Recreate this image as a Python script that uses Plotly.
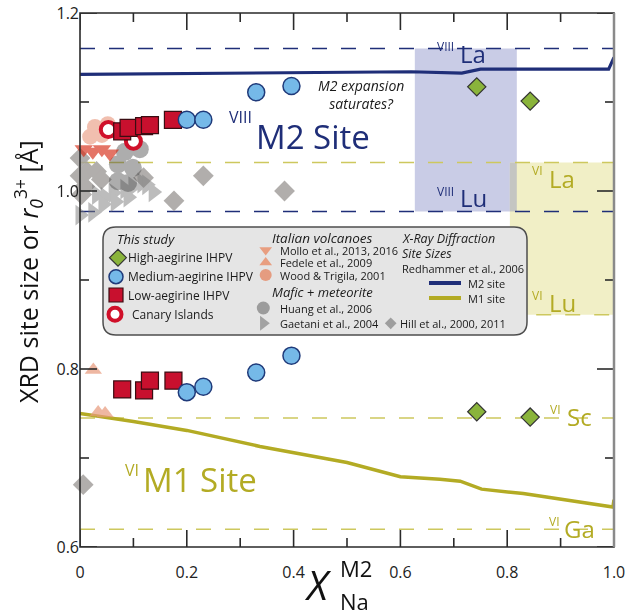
import plotly.graph_objects as go

# ---------------- data ----------------
# This study (IHPV experiments): X_Na(M2) and fitted r0(3+) for the M2 and M1 sites
high_aeg_x = [0.743, 0.843]
high_aeg_m2 = [1.117, 1.101]
high_aeg_m1 = [0.752, 0.746]

med_aeg_x = [0.200, 0.231, 0.330, 0.396]
med_aeg_m2 = [1.080, 1.080, 1.111, 1.118]
med_aeg_m1 = [0.774, 0.780, 0.796, 0.815]

low_aeg_m2_x = [0.079, 0.091, 0.120, 0.131, 0.174]
low_aeg_m2 = [1.067, 1.071, 1.073, 1.074, 1.080]
low_aeg_m1_x = [0.079, 0.120, 0.131, 0.175]
low_aeg_m1 = [0.777, 0.776, 0.787, 0.787]

canary_x = [0.053, 0.100]
canary_m2 = [1.069, 1.056]

# Italian volcanoes
mollo_x = [0.007, 0.024, 0.041, 0.056]
mollo_r = [1.047, 1.044, 1.047, 1.042]
fedele_x = [0.025, 0.034, 0.047]
fedele_r = [0.799, 0.751, 0.750]
wood_x = [0.028, 0.019, 0.041, 0.052]
wood_r = [1.072, 1.061, 1.063, 1.075]

# Mafic + meteorite
huang_x = [0.084, 0.112, 0.071, 0.099, 0.090, 0.071]
huang_r = [1.044, 1.047, 1.030, 1.026, 1.009, 1.011]
gaetani_x = [0.000, 0.024, 0.031, 0.047, 0.062, 0.084, 0.099, 0.116, 0.125, 0.137, 0.043, 0.066, 0.090]
gaetani_r = [0.973, 0.976, 0.996, 0.993, 0.998, 1.002, 1.005, 1.009, 1.007, 0.999, 0.985, 0.988, 0.993]
hill_x = [0.000, 0.000, 0.013, 0.031, 0.040, 0.009, 0.003, 0.119, 0.231, 0.176, 0.383, 0.006]
hill_r = [1.037, 1.017, 1.022, 1.022, 1.013, 1.005, 0.996, 1.015, 1.017, 0.989, 1.000, 0.670]

# XRD site sizes (Redhammer et al., 2006)
m2_site_x = [0.0, 0.2, 0.4, 0.6, 0.62, 0.715, 0.75, 0.99, 1.0]
m2_site_r = [1.131, 1.132, 1.133, 1.134, 1.134, 1.1325, 1.137, 1.137, 1.150]
m1_site_x = [0.0, 0.1, 0.2, 0.337, 0.5, 0.6, 0.674, 0.712, 0.752, 0.83, 0.998, 1.0]
m1_site_r = [0.750, 0.741, 0.731, 0.713, 0.695, 0.679, 0.676, 0.674, 0.665, 0.660, 0.645, 0.653]

# Shannon ionic radii (Å)
r_La_VIII, r_Lu_VIII = 1.160, 0.977
r_La_VI, r_Lu_VI, r_Sc_VI, r_Ga_VI = 1.032, 0.861, 0.745, 0.620
# X_Na ranges over which the REE radii bands are shaded
band_viii_x = [0.627, 0.818]
band_vi_x = [0.805, 1.0]

x_tickvals = [0, 0.2, 0.4, 0.6, 0.8, 1.0]
x_ticktext = ["0", "0.2", "0.4", "0.6", "0.8", "1.0"]
x_minorvals = [0.1, 0.3, 0.5, 0.7, 0.9]
y_tickvals = [0.6, 0.8, 1.0, 1.2]
y_ticktext = ["0.6", "0.8", "1.0", "1.2"]
y_minorvals = [0.7, 0.9, 1.1]

# ---------------- styling ----------------
W, H = 626, 616
ML, MR, MT, MB = 80, 12, 13, 69
PW, PH = W - ML - MR, H - MT - MB
X0, X1, Y0, Y1 = 0.0, 1.0, 0.6, 1.2
DX = (X1 - X0) / PW   # data units per pixel
DY = (Y1 - Y0) / PH

NAVY = "#1f2e78"
OLIVE = "#b3ab24"
OLIVE_DASH = "#cdc85e"
INK = "#2a2a2a"
FONT = "Open Sans"


def px_x(px):
    return X0 + (px - ML) * DX


def px_y(py):
    return Y1 - (py - MT) * DY


def pp_x(px):
    return (px - ML) / PW


def pp_y(py):
    return (H - MB - py) / PH


fig = go.Figure()

# site-size curves
fig.add_trace(go.Scatter(x=m2_site_x, y=m2_site_r, mode="lines",
                         line=dict(color=NAVY, width=3.2), cliponaxis=False))
fig.add_trace(go.Scatter(x=m1_site_x, y=m1_site_r, mode="lines",
                         line=dict(color=OLIVE, width=3.5), cliponaxis=False))


def pts(x, y, symbol, size, color, line_color=None, line_width=0, opacity=1.0):
    fig.add_trace(go.Scatter(
        x=x, y=y, mode="markers", cliponaxis=False, opacity=opacity,
        marker=dict(symbol=symbol, size=size, color=color,
                    line=dict(color=line_color or color, width=line_width))))


# literature data
pts(hill_x, hill_r, "diamond", 16, "#a3a09d", opacity=0.85)
pts(gaetani_x, gaetani_r, "triangle-right", 18, "#7a7a7a", opacity=0.5)
pts(huang_x, huang_r, "circle", 18, "#4a4a4a", opacity=0.45)
pts(wood_x, wood_r, "circle", 16, "#e8957a", opacity=0.6)
pts(fedele_x, fedele_r, "triangle-up", 15, "#e89a7c", opacity=0.7)
pts(mollo_x, mollo_r, "triangle-down", 16, "#d62a14", opacity=0.65)

# this study
pts(canary_x, canary_m2, "circle", 15, "white", "#d0102a", 4)
pts(low_aeg_m2_x, low_aeg_m2, "square", 17, "#c8102e", "#3a0d12", 1.2)
pts(low_aeg_m1_x, low_aeg_m1, "square", 17, "#c8102e", "#3a0d12", 1.2)
pts(med_aeg_x, med_aeg_m2, "circle", 17, "#75b9e8", "#1f3a7a", 1.5)
pts(med_aeg_x, med_aeg_m1, "circle", 17, "#75b9e8", "#1f3a7a", 1.5)
pts(high_aeg_x, high_aeg_m2, "diamond", 14, "#8ab43b", "#333333", 1.2)
pts(high_aeg_x, high_aeg_m1, "diamond", 14, "#8ab43b", "#333333", 1.2)

# ---------------- shapes ----------------
shapes = []
shapes.append(dict(type="rect", xref="x", yref="y", x0=band_viii_x[0], x1=band_viii_x[1],
                   y0=r_Lu_VIII, y1=r_La_VIII, fillcolor="#c9cce6", line=dict(width=0), layer="below"))
shapes.append(dict(type="rect", xref="x", yref="y", x0=band_vi_x[0], x1=band_vi_x[1],
                   y0=r_Lu_VI, y1=r_La_VI, fillcolor="#f1efc6", line=dict(width=0), layer="below"))
shapes.append(dict(type="rect", xref="x", yref="y", x0=band_vi_x[0], x1=band_viii_x[1],
                   y0=r_Lu_VIII, y1=r_La_VI, fillcolor="#c4c5c2", line=dict(width=0), layer="below"))

DASH = "15px,14px"
for r, c, xa in [(r_La_VIII, NAVY, 0.0), (r_Lu_VIII, NAVY, 0.0), (r_La_VI, OLIVE_DASH, 0.0),
                 (r_Lu_VI, OLIVE_DASH, 0.8), (r_Sc_VI, OLIVE_DASH, 0.0), (r_Ga_VI, OLIVE_DASH, 0.0)]:
    shapes.append(dict(type="line", xref="x", yref="y", x0=xa, x1=1.0, y0=r, y1=r,
                       line=dict(color=c, width=1.5, dash=DASH), layer="below"))

# legend panel (rounded box)
bx0, bx1 = px_x(103), px_x(527)
by0, by1 = px_y(335), px_y(227)
rx, ry = 13 * DX, 13 * DY
path = (f"M{bx0+rx},{by1} L{bx1-rx},{by1} Q{bx1},{by1} {bx1},{by1-ry} "
        f"L{bx1},{by0+ry} Q{bx1},{by0} {bx1-rx},{by0} L{bx0+rx},{by0} "
        f"Q{bx0},{by0} {bx0},{by0+ry} L{bx0},{by1-ry} Q{bx0},{by1} {bx0+rx},{by1} Z")
shapes.append(dict(type="path", xref="x", yref="y", path=path, fillcolor="#e5e5e5",
                   line=dict(color="#4d4d4d", width=1.5), layer="below"))
# legend line keys
shapes.append(dict(type="line", xref="x", yref="y", x0=px_x(429), x1=px_x(461),
                   y0=px_y(283), y1=px_y(283), line=dict(color=NAVY, width=4), layer="below"))
shapes.append(dict(type="line", xref="x", yref="y", x0=px_x(429), x1=px_x(461),
                   y0=px_y(298), y1=px_y(298), line=dict(color=OLIVE, width=4), layer="below"))

# plot frame with inward ticks on all four sides
shapes.append(dict(type="rect", xref="paper", yref="paper", x0=0, x1=1, y0=0, y1=1,
                   line=dict(color=INK, width=1.6), fillcolor="rgba(0,0,0,0)", layer="above"))
for vals, ln in [(x_tickvals, 17), (x_minorvals, 9)]:
    for v in vals:
        shapes.append(dict(type="line", xref="x", yref="paper", x0=v, x1=v, y0=0, y1=ln / PH,
                           line=dict(color=INK, width=1.6), layer="above"))
        shapes.append(dict(type="line", xref="x", yref="paper", x0=v, x1=v, y0=1, y1=1 - ln / PH,
                           line=dict(color=INK, width=1.6), layer="above"))
for vals, ln in [(y_tickvals, 17), (y_minorvals, 9)]:
    for v in vals:
        shapes.append(dict(type="line", xref="paper", yref="y", x0=0, x1=ln / PW, y0=v, y1=v,
                           line=dict(color=INK, width=1.6), layer="above"))
        shapes.append(dict(type="line", xref="paper", yref="y", x0=1, x1=1 - ln / PW, y0=v, y1=v,
                           line=dict(color=INK, width=1.6), layer="above"))
# right frame edge (grey)
shapes.append(dict(type="line", xref="paper", yref="paper", x0=1, x1=1, y0=0, y1=1,
                   line=dict(color="#8a8a8a", width=2.5), layer="above"))


# legend marker keys
def key(px, py, symbol, size, color, line_color=None, line_width=0):
    fig.add_trace(go.Scatter(
        x=[px_x(px)], y=[px_y(py)], mode="markers", cliponaxis=False,
        marker=dict(symbol=symbol, size=size, color=color,
                    line=dict(color=line_color or color, width=line_width))))


key(118, 257.7, "diamond", 13, "#8ab43b", "#333333", 1.2)
key(116, 276.7, "circle", 14, "#75b9e8", "#1f3a7a", 1.5)
key(116, 295, "square", 14, "#c8102e", "#3a0d12", 1.2)
key(115, 314.3, "circle", 13, "white", "#d0102a", 4)
key(265.7, 250, "triangle-down", 11, "#e89e80")
key(265.7, 262.5, "triangle-up", 11, "#e89e80")
key(265.7, 275, "circle", 12, "#e59c80")
key(263.3, 308, "circle", 13, "#9c9c9c")
key(263.3, 323.3, "triangle-right", 13, "#a2a2a2")
key(390.7, 323.3, "diamond", 9, "#9e9e9e")

# ---------------- annotations ----------------
ann = []


def label(px, py, text, size, color="#1a1a1a", xanchor="left", italic=False, angle=0, pad=1):
    ann.append(dict(x=pp_x(px), y=pp_y(py), xref="paper", yref="paper", text=text,
                    showarrow=False, xanchor=xanchor, yanchor="middle", textangle=angle,
                    borderpad=pad,
                    font=dict(family=FONT, size=size, color=color,
                              style="italic" if italic else "normal")))


# radius labels
label(456, 46, "VIII", 12, NAVY, "right")
label(458, 54, "La", 24, NAVY)
label(456, 191, "VIII", 12, NAVY, "right")
label(458, 198, "Lu", 24, NAVY)
label(545, 171, "VI", 12, OLIVE, "right")
label(547, 178, "La", 24, OLIVE)
label(545, 295, "VI", 12, OLIVE, "right")
label(547, 302, "Lu", 24, OLIVE)
label(563, 409, "VI", 12, OLIVE, "right")
label(565, 416, "Sc", 24, OLIVE)
label(562, 521, "VI", 12, OLIVE, "right")
label(562, 528, "Ga", 24, OLIVE)

# site labels
label(254, 117, "VIII", 16, NAVY, "right")
label(254, 136, "M2 Site", 33, NAVY)
label(141, 470, "VI", 16, OLIVE, "right")
label(141, 479, "M1 Site", 33, OLIVE)

ann.append(dict(x=pp_x(361), y=pp_y(94), xref="paper", yref="paper", showarrow=False,
                xanchor="center", yanchor="middle", align="center",
                text="M2 expansion<br>saturates?",
                font=dict(family=FONT, size=14, color="#1a1a1a", style="italic")))

# legend text
LC = "#1a1a1a"
for px, py, t, sz, it in [
    (116, 238.5, "This study", 13, True),
    (127, 257.7, "High-aegirine IHPV", 12, False),
    (127, 276.7, "Medium-aegirine IHPV", 12, False),
    (127, 295, "Low-aegirine IHPV", 12, False),
    (131, 314.3, "Canary Islands", 12, False),
    (271, 238, "Italian volcanoes", 13.5, True),
    (279, 250, "Mollo et al., 2013, 2016", 11, False),
    (279, 262.5, "Fedele et al., 2009", 11, False),
    (279, 275, "Wood &amp; Trigila, 2001", 11, False),
    (271, 291.7, "Mafic + meteorite", 13, True),
    (279, 308, "Huang et al., 2006", 11, False),
    (279, 323.3, "Gaetani et al., 2004", 11, False),
    (401, 238, "X-Ray Diffraction", 12.5, True),
    (401, 253, "Site Sizes", 12.5, True),
    (401, 268, "Redhammer et al., 2006", 11, False),
    (467, 283, "M2 site", 11, False),
    (467, 298, "M1 site", 11, False),
    (399, 323.3, "Hill et al., 2000, 2011", 11, False),
]:
    label(px, py, t, sz, LC, "left", it, pad=0)

# axis titles
label(318, 584, "X", 40, "#111111", "center", True)
label(338, 568, "M2", 22, "#111111", "left")
label(338, 601, "Na", 22, "#111111", "left")
label(28, 272, "XRD site size or <i>r</i><sub><i>0</i></sub><sup>3+</sup> [Å]", 25,
      "#111111", "center", False, -90)

fig.update_layout(
    width=W, height=H,
    margin=dict(l=ML, r=MR, t=MT, b=MB, autoexpand=False),
    paper_bgcolor="white", plot_bgcolor="white",
    showlegend=False,
    shapes=shapes, annotations=ann,
    xaxis=dict(range=[X0, X1], tickmode="array", tickvals=x_tickvals, ticktext=x_ticktext,
               showline=False, showgrid=False, zeroline=False,
               ticks="outside", ticklen=11, tickcolor="rgba(0,0,0,0)",
               tickfont=dict(family=FONT, size=16, color="#222222")),
    yaxis=dict(range=[Y0, Y1], tickmode="array", tickvals=y_tickvals, ticktext=y_ticktext,
               showline=False, showgrid=False, zeroline=False, ticks="",
               tickfont=dict(family=FONT, size=16, color="#222222")),
)

fig.write_html("out.html")
